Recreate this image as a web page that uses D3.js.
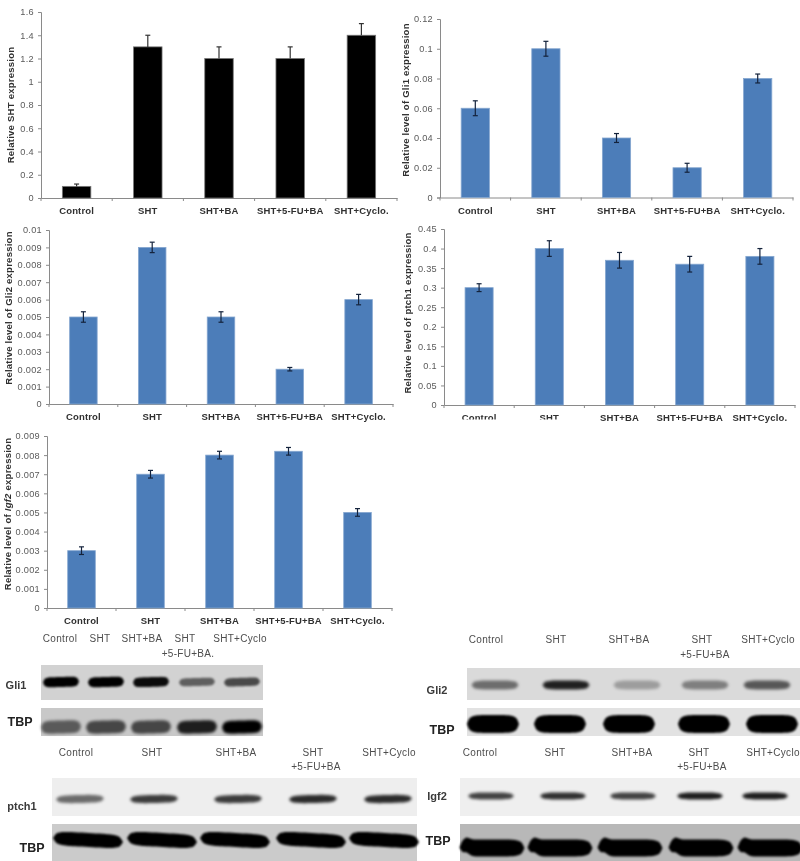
<!DOCTYPE html>
<html><head><meta charset="utf-8">
<script src="https://cdn.jsdelivr.net/npm/d3@7"></script>
<style>html,body{margin:0;padding:0;background:#fff}svg{display:block;filter:blur(.35px)}text{font-family:"Liberation Sans",Arial,sans-serif}</style>
</head><body><svg id="c" width="800" height="861"></svg>
<script>
// ---------- data ----------
const categories = ["Control","SHT","SHT+BA","SHT+5-FU+BA","SHT+Cyclo."];
const shtValues  = [0.1,1.3,1.2,1.2,1.4];
const shtErrors  = [0.02,0.1,0.1,0.1,0.1];
const shtTicks   = [0,0.2,0.4,0.6,0.8,1,1.2,1.4,1.6];
const gli1Values = [0.06,0.1,0.04,0.02,0.08];
const gli1Errors = [0.005,0.005,0.003,0.003,0.003];
const gli1Ticks  = [0,0.02,0.04,0.06,0.08,0.1,0.12];
const gli2Values = [0.005,0.009,0.005,0.002,0.006];
const gli2Errors = [0.0003,0.0003,0.0003,0.0001,0.0003];
const gli2Ticks  = [0,0.001,0.002,0.003,0.004,0.005,0.006,0.007,0.008,0.009,0.01];
const ptchValues = [0.3,0.4,0.37,0.36,0.38];
const ptchErrors = [0.01,0.02,0.02,0.02,0.02];
const ptchTicks  = [0,0.05,0.1,0.15,0.2,0.25,0.3,0.35,0.4,0.45];
const igf2Values = [0.003,0.007,0.008,0.0082,0.005];
const igf2Errors = [0.0002,0.0002,0.0002,0.0002,0.0002];
const igf2Ticks  = [0,0.001,0.002,0.003,0.004,0.005,0.006,0.007,0.008,0.009];
// blot band intensities (0..1) per lane
const gli1Bands = [1,1,0.95,0.55,0.65];
const gli1Tbp   = [0.55,0.65,0.65,0.85,1];
const gli2Bands = [0.5,0.85,0.28,0.42,0.6];
const gli2Tbp   = [1,1,1,1,1];
const ptchBands = [0.55,0.75,0.75,0.82,0.82];
const ptchTbp   = [1,1,1,1,1];
const igf2Bands = [0.72,0.8,0.72,0.88,0.88];
const igf2Tbp   = [1,1,1,1,1];
const laneNames = [["Control"],["SHT"],["SHT+BA"],["SHT","+5-FU+BA"],["SHT+Cyclo"]];
const gli1Names = [["Control"],["SHT"],["SHT+BA"],["SHT","+5-FU+BA."],["SHT+Cyclo"]];

// ---------- layout ----------
const svg = d3.select("#c");
const defs = svg.append("defs");
defs.append("filter").attr("id","b1").attr("x","-20%").attr("y","-100%").attr("width","140%").attr("height","300%")
  .append("feGaussianBlur").attr("stdDeviation",1.5);
defs.append("filter").attr("id","b2").attr("x","-20%").attr("y","-100%").attr("width","140%").attr("height","300%")
  .append("feGaussianBlur").attr("stdDeviation",0.8);

function chart(o){
  const x = d3.scaleBand().domain(categories).range([o.l,o.r]);
  const y = d3.scaleLinear().domain([0,d3.max(o.ticks)]).range([o.b,o.t]);
  const g = svg.append("g");
  const gy = g.append("g").attr("transform",`translate(${o.l},0)`)
    .call(d3.axisLeft(y).tickValues(o.ticks).tickSize(3).tickPadding(4).tickFormat(d3.format("~g")));
  gy.selectAll("text").attr("fill","#5a5a5a").attr("font-size",9.2).style("letter-spacing","0.3px");
  const gx = g.append("g").attr("transform",`translate(0,${o.b})`)
    .call(d3.axisBottom(x).tickSize(0).tickPadding(o.lab));
  gx.selectAll("text").attr("fill","#303030").attr("font-size",9.5).attr("font-weight","bold").style("letter-spacing","0.15px");
  g.selectAll("path.domain").attr("stroke","#8a8a8a");
  g.selectAll(".tick line").attr("stroke","#8a8a8a");
  g.append("g").selectAll("line").data(categories.concat("end")).join("line")
    .attr("x1",d=>d==="end"?o.r:x(d)).attr("x2",d=>d==="end"?o.r:x(d))
    .attr("y1",o.b).attr("y2",o.b+3).attr("stroke","#8a8a8a");
  const w = x.bandwidth()*0.4;
  g.append("g").selectAll("rect").data(o.vals).join("rect")
    .attr("x",(d,i)=>x(categories[i])+(x.bandwidth()-w)/2).attr("width",w)
    .attr("y",d=>y(d)).attr("height",d=>y(0)-y(d))
    .attr("fill",o.fill).attr("stroke",o.edge).attr("stroke-width",0.8);
  const eb = g.append("g").attr("stroke",o.err).attr("stroke-width",1.2).attr("fill","none");
  o.vals.forEach((v,i)=>{
    const cx = x(categories[i])+x.bandwidth()/2;
    const low = o.upOnly ? v : v-o.errs[i];
    eb.append("line").attr("x1",cx).attr("x2",cx).attr("y1",y(low)).attr("y2",y(v+o.errs[i]));
    eb.append("line").attr("x1",cx-2.5).attr("x2",cx+2.5).attr("y1",y(v+o.errs[i])).attr("y2",y(v+o.errs[i]));
    if(!o.upOnly) eb.append("line").attr("x1",cx-2.5).attr("x2",cx+2.5).attr("y1",y(low)).attr("y2",y(low));
  });
  const t = g.append("text").attr("transform",`translate(${o.lx},${o.ly}) rotate(-90)`)
    .attr("text-anchor","middle").attr("font-size",9.5).attr("font-weight","bold").attr("fill","#303030").style("letter-spacing","0.25px");
  o.title.forEach(p=>t.append("tspan").text(p[0]).attr("font-style",p[1]?"italic":null));
}
const blue = {fill:"#4c7db9",edge:"#86a7d0",err:"#14233c"};
chart({...blue,l:41,r:397,t:12,b:198,lab:9.5,ticks:shtTicks,vals:shtValues,errs:shtErrors,fill:"#000",edge:"#777",err:"#333",upOnly:true,lx:14,ly:105,title:[["Relative SHT expression"]]});
chart({...blue,l:440,r:793,t:19,b:197.5,lab:9.5,ticks:gli1Ticks,vals:gli1Values,errs:gli1Errors,lx:409,ly:100,title:[["Relative level of Gli1 expression"]]});
chart({...blue,l:49,r:393,t:230,b:404,lab:9,ticks:gli2Ticks,vals:gli2Values,errs:gli2Errors,lx:12,ly:308,title:[["Relative level of Gli2 expression"]]});
chart({...blue,l:444,r:795,t:229,b:405,lab:9,ticks:ptchTicks,vals:ptchValues,errs:ptchErrors,lx:411,ly:313,title:[["Relative level of ptch1  expression"]]});
// the lower part of two labels is cut off in the reference
svg.append("rect").attr("x",455).attr("y",419.5).attr("width",115).attr("height",6).attr("fill","#fff");
chart({...blue,l:47,r:392,t:436,b:608,lab:9,ticks:igf2Ticks,vals:igf2Values,errs:igf2Errors,lx:11,ly:514,title:[["Relative level of "],["Igf2",true],[" expression"]]});

// ---------- blots ----------
const profileT = d3.range(0,1.0001,0.05);
function strip(o){
  const g = svg.append("g");
  g.append("rect").attr("x",o.x0).attr("y",o.y0).attr("width",o.x1-o.x0).attr("height",o.y1-o.y0).attr("fill",o.bg);
  const area = d3.area().curve(d3.curveCatmullRom).x(d=>d.x).y0(d=>d.a).y1(d=>d.b);
  o.bands.forEach((v,i)=>{
    const pts = profileT.map(t=>{
      const edge = Math.pow(Math.max(0,1-Math.pow(Math.abs(2*t-1),o.sharp)),0.5);
      const h = o.th/2*edge*(o.grow?0.55+0.45*v:1);
      const sl = o.tilt*(t-0.5);
      const c = o.cy + sl + (o.notch? -3*Math.exp(-Math.pow((t-0.1)/0.07,2)) : 0);
      return {x:o.lanes[i]+o.w*(t-0.5),a:c-h,b:c+h};
    });
    g.append("path").attr("d",area(pts)).attr("fill",`rgba(0,0,0,${Math.min(1,v)})`)
      .attr("filter",`url(#${o.soft?"b1":"b2"})`);
  });
}
function headers(names,xs,y,dy){
  const g = svg.append("g").attr("fill","#4d4d4d").attr("font-size",10).attr("text-anchor","middle").style("letter-spacing","0.3px");
  names.forEach((n,i)=>n.forEach((s,j)=>g.append("text").attr("x",xs[i]+(j===1?3:0)).attr("y",y+j*dy).attr("dy","0.35em").text(s)));
}
function rowLabel(s,x,y,big){
  svg.append("text").attr("x",x).attr("y",y).attr("dy","0.35em").attr("text-anchor","middle")
    .attr("font-size",big?12.5:11).attr("font-weight","bold").attr("fill",big?"#222":"#3a3a3a").text(s);
}
// Gli1
headers(gli1Names,[60,100,142,185,240],638,15);
strip({x0:41,x1:263,y0:665,y1:700,bg:"#d2d2d2",bands:gli1Bands,lanes:[61,106,151,197,242],w:36,th:10,cy:682,tilt:-1,sharp:7,grow:true});
strip({x0:41,x1:263,y0:708,y1:736,bg:"#c8c8c8",bands:gli1Tbp,lanes:[61,106,151,197,242],w:40,th:13,cy:727,tilt:-1,sharp:6,soft:true});
rowLabel("Gli1",16,685,false); rowLabel("TBP",20,722,true);
// ptch1
headers(laneNames,[76,152,236,313,389],752,14);
strip({x0:52,x1:417,y0:778,y1:816,bg:"#eeeeee",bands:ptchBands,lanes:[80,154,238,313,388],w:48,th:8,cy:799,tilt:-1,sharp:4,soft:true});
strip({x0:52,x1:417,y0:824,y1:861,bg:"#cbcbcb",bands:ptchTbp,lanes:[88,162,235,311,384],w:70,th:14,cy:840,tilt:4,sharp:6});
rowLabel("ptch1",22,806,false); rowLabel("TBP",32,848,true);
// Gli2
headers(laneNames,[486,556,629,702,768],639,15);
strip({x0:467,x1:800,y0:668,y1:700,bg:"#dadada",bands:gli2Bands,lanes:[495,566,637,705,767],w:47,th:9,cy:685,tilt:0,sharp:5,soft:true});
strip({x0:467,x1:800,y0:708,y1:736,bg:"#e2e2e2",bands:gli2Tbp,lanes:[493,560,629,704,772],w:52,th:18,cy:724,tilt:0,sharp:5});
rowLabel("Gli2",437,690,false); rowLabel("TBP",442,730,true);
// Igf2
headers(laneNames,[480,555,632,699,773],752,14);
strip({x0:460,x1:800,y0:778,y1:816,bg:"#efefef",bands:igf2Bands,lanes:[491,563,633,700,765],w:46,th:7,cy:796,tilt:0,sharp:4,soft:true});
strip({x0:460,x1:800,y0:824,y1:861,bg:"#b8b8b8",bands:igf2Tbp,lanes:[492,560,630,701,770],w:65,th:17,cy:848,tilt:0,sharp:6,notch:true});
rowLabel("Igf2",437,796,false); rowLabel("TBP",438,841,true);
</script></body></html>
